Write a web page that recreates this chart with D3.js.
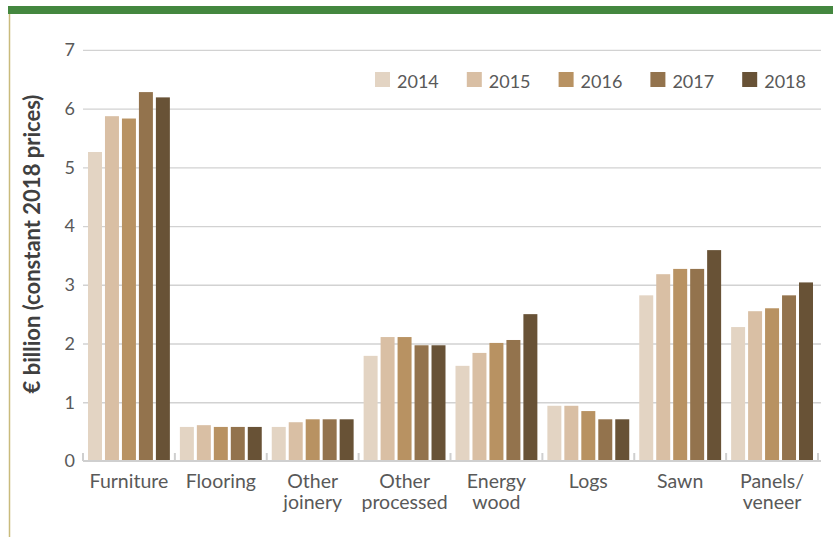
<!DOCTYPE html>
<html>
<head>
<meta charset="utf-8">
<script src="https://cdn.jsdelivr.net/npm/d3@7/dist/d3.min.js"></script>
<style>
  html, body { margin: 0; padding: 0; background: #fff; }
  svg { display: block; font-family: Lato, "Noto Sans", sans-serif; }
</style>
</head>
<body>
<svg id="chart" width="833" height="537"></svg>
<script>
// Wood product categories (x axis), two-line labels split on "|"
const categories = ["Furniture", "Flooring", "Other|joinery", "Other|processed", "Energy|wood", "Logs", "Sawn", "Panels/|veneer"];
const years = ["2014", "2015", "2016", "2017", "2018"];
// € billion, constant 2018 prices, one array per year (same order as categories)
const v2014 = [5.26, 0.58, 0.58, 1.79, 1.62, 0.94, 2.82, 2.28];
const v2015 = [5.87, 0.61, 0.66, 2.11, 1.84, 0.94, 3.18, 2.55];
const v2016 = [5.83, 0.58, 0.71, 2.11, 2.01, 0.85, 3.27, 2.60];
const v2017 = [6.28, 0.58, 0.71, 1.97, 2.06, 0.71, 3.27, 2.82];
const v2018 = [6.19, 0.58, 0.71, 1.97, 2.50, 0.71, 3.59, 3.04];
const yTicks = [0, 1, 2, 3, 4, 5, 6, 7];
const yTitle = "€ billion (constant 2018 prices)";

const seriesValues = [v2014, v2015, v2016, v2017, v2018];
const colors = ["#e3d4c3", "#d9bfa4", "#b89262", "#93734d", "#685236"];
const textColor = "#595959";

const svg = d3.select("#chart");

// frame: green band on top and thin rule down the left edge
svg.append("rect").attr("x", 8).attr("y", 6).attr("width", 825).attr("height", 8).attr("fill", "#44873f");
svg.append("line").attr("x1", 9.5).attr("x2", 9.5).attr("y1", 14).attr("y2", 537)
  .attr("stroke", "#c9bb7c").attr("stroke-width", 1.5);

const plot = { left: 83, right: 818, top: 49.8, bottom: 461 };

const x = d3.scaleBand().domain(categories).range([plot.left, plot.right]).padding(0);
const xYear = d3.scaleBand().domain(years).range([5, x.bandwidth() - 5]).paddingInner(0.176).paddingOuter(0);
const y = d3.scaleLinear().domain([0, 7]).range([plot.bottom, plot.top]);

// y axis with gridlines
const yAxis = svg.append("g")
  .attr("transform", `translate(${plot.left},0)`)
  .call(d3.axisLeft(y).tickValues(yTicks).tickFormat(d3.format("d"))
    .tickSize(-(plot.right + 3 - plot.left)).tickPadding(8));
yAxis.select(".domain").remove();
yAxis.selectAll(".tick line")
  .attr("stroke", "#d2d2d2").attr("stroke-width", 1.3)
  .attr("display", d => d === 0 ? "none" : null);
yAxis.selectAll(".tick text")
  .attr("fill", textColor).style("font-size", "18px").style("font-family", "Lato, sans-serif");

// bars
const rows = categories.map((c, i) => ({ cat: c, vals: years.map((yr, j) => ({ year: yr, value: seriesValues[j][i], idx: j })) }));
const groups = svg.append("g").selectAll("g").data(rows).join("g")
  .attr("transform", d => `translate(${x(d.cat)},0)`);
groups.selectAll("rect").data(d => d.vals).join("rect")
  .attr("x", d => xYear(d.year))
  .attr("width", xYear.bandwidth())
  .attr("y", d => y(d.value))
  .attr("height", d => y(0) - y(d.value))
  .attr("fill", d => colors[d.idx]);

// x axis baseline and separator ticks
const xAxis = svg.append("g")
  .attr("transform", `translate(0,${plot.bottom})`)
  .call(d3.axisBottom(x).tickSize(0).tickPadding(0).tickFormat(() => ""));
xAxis.select(".domain").attr("stroke", "#cfcfcf").attr("stroke-width", 2)
  .attr("d", `M${plot.left},0H${plot.right + 3}`);
const bounds = categories.map(c => x(c)).concat([plot.right]);
xAxis.selectAll(".sep").data(bounds).join("line").attr("class", "sep")
  .attr("x1", d => d).attr("x2", d => d).attr("y1", -8).attr("y2", 0)
  .attr("stroke", "#cfcfcf").attr("stroke-width", 2);

// category labels: each line is its own text element under the tick
xAxis.selectAll(".tick").each(function (d) {
  const tick = d3.select(this);
  tick.select("text").remove();
  tick.selectAll("text.cat").data(d.split("|")).join("text")
    .attr("class", "cat")
    .attr("text-anchor", "middle")
    .attr("x", 0)
    .attr("y", (line, k) => 27 + k * 21)
    .attr("fill", textColor)
    .style("font-size", "19.5px").style("font-family", "Lato, sans-serif")
    .text(line => line);
});

// y axis title
svg.append("text")
  .attr("transform", `translate(40,244) rotate(-90)`)
  .attr("text-anchor", "middle")
  .attr("fill", "#404040")
  .style("font-size", "22px").style("font-weight", "bold")
  .text(yTitle);

// legend
const legend = svg.append("g").selectAll("g").data(years).join("g")
  .attr("transform", (d, i) => `translate(${375 + i * 91.8},72)`);
legend.append("rect").attr("width", 15).attr("height", 15).attr("fill", (d, i) => colors[i]);
legend.append("text").attr("x", 22).attr("y", 16)
  .attr("fill", textColor).style("font-size", "18px").text(d => d);
</script>
</body>
</html>
